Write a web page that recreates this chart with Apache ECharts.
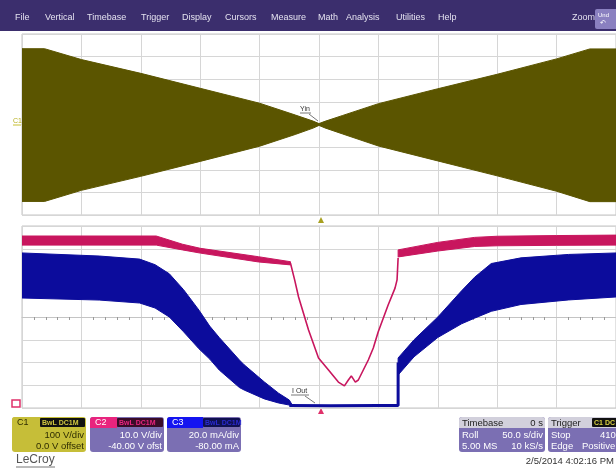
<!DOCTYPE html>
<html><head><meta charset="utf-8">
<script src="https://cdn.jsdelivr.net/npm/echarts@6/dist/echarts.min.js"></script>
<style>html,body{margin:0;padding:0;background:#fff;overflow:hidden}#c{width:616px;height:468px}</style>
</head><body><div id="c"></div>
<script>
// ---------- DATA ----------
const menuItems = ['File','Vertical','Timebase','Trigger','Display','Cursors','Measure','Math','Analysis','Utilities','Help'];
// time axis: 50 s/div, 10 divisions
const timeTicks = [0,50,100,150,200,250,300,350,400,450,500];
// C1 (Vin) envelope, volts
const c1T  = [0, 19, 50, 100, 150, 200, 230, 245, 250, 255, 270, 300, 350, 400, 450, 478, 500];
const c1Hi = [335, 335, 287, 226, 160, 94, 42, 15, 4, 14, 40, 92, 158, 222, 290, 334, 334];
const c1Lo = [-340, -340, -291, -229, -163, -96, -44, -16, -4, -15, -42, -95, -161, -227, -295, -341, -341];
// C2 envelope, volts (left band, thin dip trace, right band)
const c2LeftT  = [0, 113, 135, 150, 199, 226];
const c2LeftHi = [75.6, 75.6, 72.0, 70.2, 66.5, 64.3];
const c2LeftLo = [71.6, 71.6, 69.5, 68.1, 64.2, 62.9];
const c2DipT = [226, 229.5, 232.8, 241.2, 249.6, 258, 266.3, 271.4, 274.7, 277.2, 280.6, 283.1, 287.3, 291.5, 295.7, 299.8, 308.2, 314, 315.7, 316.6];
const c2DipV = [63.6, 56.3, 48.8, 34.3, 22.0, 16.7, 11.4, 9.7, 12.3, 14.1, 11.4, 12.3, 16.7, 21.1, 26.4, 33.4, 45.3, 52.7, 56.3, 66.0];
const c2RightT  = [316.6, 350, 381, 400, 450, 500];
const c2RightHi = [69.5, 72.8, 75.0, 75.5, 75.8, 76.0];
const c2RightLo = [66.4, 69.0, 71.0, 71.3, 71.5, 71.6];
// C3 (I Out) envelope, mA
const c3LeftT  = [0, 65, 99, 112, 124, 136, 149, 158, 166, 183, 187, 204, 216, 225, 227];
const c3LeftHi = [136.3, 133.6, 130.9, 126.0, 118.0, 104.0, 86.0, 72.0, 62.0, 42.2, 38.0, 22.9, 13.0, 7.0, 3.5];
const c3LeftLo = [96.7, 94.9, 92.3, 87.9, 80.0, 67.0, 52.0, 43.0, 33.4, 18.0, 15.8, 8.0, 4.4, 2.6, 1.5];
const c3FloorT = [225, 260, 300, 316.6, 316.6];
const c3FloorI = [2.2, 2.0, 2.2, 2.2, 40];
const c3RightT  = [316.6, 330, 350, 370, 381, 395, 420, 460, 500];
const c3RightHi = [44, 60, 80, 103, 115, 127, 132, 135, 136.3];
const c3RightLo = [29, 45, 62, 74, 79, 85, 91, 95, 97.6];

// ---------- LAYOUT / STYLE ----------
const OLIVE = '#5b5500', MAG = '#c8165e', BLUE = '#0c0c9c', LAV = '#7b6fb3';
const FONT = '"Liberation Sans", Arial, sans-serif';
const menuX = [15, 45, 87, 141, 182, 225, 271, 318, 346, 396, 438];

function band(name, xi, yi, T, HI, LO, color) {
  return {
    type: 'custom', name, xAxisIndex: xi, yAxisIndex: yi, silent: true, clip: true,
    data: [[T[0], HI[0]]],
    renderItem(params, api) {
      const pts = [];
      for (let i = 0; i < T.length; i++) pts.push(api.coord([T[i], HI[i]]));
      for (let i = T.length - 1; i >= 0; i--) pts.push(api.coord([T[i], LO[i]]));
      return { type: 'polygon', shape: { points: pts }, style: { fill: color, stroke: color, lineWidth: 1 } };
    }
  };
}
function trace(name, xi, yi, T, V, color, w) {
  return {
    type: 'line', name, xAxisIndex: xi, yAxisIndex: yi, silent: true, symbol: 'none',
    data: T.map((t, i) => [t, V[i]]), lineStyle: { color, width: w }, z: 3
  };
}
const gridLine = { show: true, lineStyle: { color: '#d6d6d6', width: 1 } };
function xAx(gi, zeroIdx) {
  return {
    type: 'value', gridIndex: gi, min: timeTicks[0], max: timeTicks[timeTicks.length - 1], interval: 50,
    axisLabel: { show: false }, splitLine: gridLine,
    axisLine: { show: true, onZero: true, onZeroAxisIndex: zeroIdx, lineStyle: { color: '#c4c4c4' } },
    axisTick: { show: false },
    minorTick: { show: true, splitNumber: 5, length: 3, lineStyle: { color: '#9a9a9a' } }
  };
}
function txt(x, y, s, opt) {
  return Object.assign({ type: 'text', x, y, silent: true,
    style: Object.assign({ text: s, font: '9px ' + FONT, fill: '#fff', verticalAlign: 'middle' }, opt || {}) });
}
function rect(x, y, w, h, fill, r) {
  return { type: 'rect', silent: true, shape: { x, y, width: w, height: h, r: r || 0 }, style: { fill } };
}

const graphics = [];
// menu bar
graphics.push(rect(0, 0, 616, 31, '#3b2e6d'));
menuItems.forEach((m, i) => graphics.push(txt(menuX[i], 18, m, { font: '9px ' + FONT, fill: '#e4e2f0' })));
graphics.push(txt(572, 18, 'Zoom', { font: '9px ' + FONT, fill: '#e4e2f0' }));
graphics.push(rect(595, 9, 24, 20, '#8a80c0', 2));
graphics.push(txt(598, 15, 'Und', { font: '6px ' + FONT, fill: '#fff' }));
graphics.push(txt(600, 23, '↶', { font: '7px ' + FONT, fill: '#fff' }));
// channel info boxes
function chanBox(x, headColor, headW, tagColor, tagText, tagFill, label, l1, l2, bodyFill, textFill, labelFill) {
  graphics.push(rect(x, 417, 74, 35, bodyFill, 3));
  graphics.push(rect(x, 417, headW, 11, headColor, [3, 0, 0, 0]));
  graphics.push(rect(x + headW, 418, 74 - headW - 1, 9, tagColor, 1));
  graphics.push(txt(x + headW + 2, 423, tagText, { font: 'bold 7px ' + FONT, fill: tagFill }));
  graphics.push(txt(x + 5, 423, label, { font: '9px ' + FONT, fill: labelFill }));
  graphics.push(txt(x + 72, 435, l1, { font: '9.5px ' + FONT, fill: textFill, align: 'right' }));
  graphics.push(txt(x + 72, 446, l2, { font: '9.5px ' + FONT, fill: textFill, align: 'right' }));
}
chanBox(12, '#c6be38', 28, '#111', 'BwL DC1M', '#cfc640', 'C1', '100 V/div', '0.0 V offset', '#c6be38', '#2e2c00', '#2e2c00');
chanBox(90, '#e8247e', 27, '#3a0c28', 'BwL DC1M', '#e8247e', 'C2', '10.0 V/div', '-40.00 V ofst', LAV, '#ffffff', '#ffffff');
chanBox(167, '#1414f0', 36, '#101050', 'BwL DC1M', '#2a2ad0', 'C3', '20.0 mA/div', '-80.00 mA', LAV, '#ffffff', '#ffffff');
// timebase
graphics.push(rect(459, 417, 86, 35, LAV, 3));
graphics.push(rect(459, 417, 86, 11, '#d2d0dc', [3, 3, 0, 0]));
graphics.push(txt(462, 423, 'Timebase', { font: '9.5px ' + FONT, fill: '#222' }));
graphics.push(txt(543, 423, '0 s', { font: '9.5px ' + FONT, fill: '#222', align: 'right' }));
graphics.push(txt(462, 435, 'Roll', { font: '9.5px ' + FONT }));
graphics.push(txt(543, 435, '50.0 s/div', { font: '9.5px ' + FONT, align: 'right' }));
graphics.push(txt(462, 446, '5.00 MS', { font: '9.5px ' + FONT }));
graphics.push(txt(543, 446, '10 kS/s', { font: '9.5px ' + FONT, align: 'right' }));
// trigger
graphics.push(rect(548, 417, 80, 35, LAV, 3));
graphics.push(rect(548, 417, 80, 11, '#d2d0dc', [3, 3, 0, 0]));
graphics.push(txt(551, 423, 'Trigger', { font: '9.5px ' + FONT, fill: '#222' }));
graphics.push(rect(592, 418, 30, 9, '#111', 1));
graphics.push(txt(594, 423, 'C1 DC', { font: 'bold 7px ' + FONT, fill: '#d8d040' }));
graphics.push(txt(551, 435, 'Stop', { font: '9.5px ' + FONT }));
graphics.push(txt(600, 435, '410 mV', { font: '9.5px ' + FONT }));
graphics.push(txt(551, 446, 'Edge', { font: '9.5px ' + FONT }));
graphics.push(txt(582, 446, 'Positive', { font: '9.5px ' + FONT }));
// footer
graphics.push(txt(16, 460, 'LeCroy', { font: '12px ' + FONT, fill: '#555' }));
graphics.push({ type: 'line', silent: true, shape: { x1: 16, y1: 467, x2: 55, y2: 467 }, style: { stroke: '#777', lineWidth: 1 } });
graphics.push(txt(614, 461, '2/5/2014 4:02:16 PM', { font: '9.5px ' + FONT, fill: '#333', align: 'right' }));
// channel marker / annotations
graphics.push(txt(13, 121, 'C1', { font: '7px ' + FONT, fill: '#b8b020' }));
graphics.push({ type: 'line', silent: true, shape: { x1: 13, y1: 125, x2: 21, y2: 125 }, style: { stroke: '#c8c030', lineWidth: 1 } });
graphics.push({ type: 'rect', silent: true, shape: { x: 12, y: 400, width: 8, height: 7 }, style: { fill: '#fff', stroke: '#e0306a', lineWidth: 1.5 } });
graphics.push({ type: 'polygon', silent: true, shape: { points: [[318, 223], [324, 223], [321, 217]] }, style: { fill: '#a8a020' } });
graphics.push({ type: 'polygon', silent: true, shape: { points: [[318, 414], [324, 414], [321, 408]] }, style: { fill: '#e0306a' } });
graphics.push(txt(300, 109, 'Yin', { font: '7px ' + FONT, fill: '#333' }));
graphics.push({ type: 'line', silent: true, shape: { x1: 300, y1: 113, x2: 311, y2: 113 }, style: { stroke: '#555', lineWidth: 0.8 } });
graphics.push({ type: 'line', silent: true, shape: { x1: 309, y1: 114, x2: 318, y2: 121 }, style: { stroke: '#555', lineWidth: 0.8 } });
graphics.push(txt(292, 391, 'I Out', { font: '7px ' + FONT, fill: '#333' }));
graphics.push({ type: 'line', silent: true, shape: { x1: 291, y1: 395, x2: 309, y2: 395 }, style: { stroke: '#555', lineWidth: 0.8 } });
graphics.push({ type: 'line', silent: true, shape: { x1: 305, y1: 396, x2: 315, y2: 403 }, style: { stroke: '#555', lineWidth: 0.8 } });

const option = {
  animation: false,
  backgroundColor: '#ffffff',
  grid: [
    { left: 22, top: 34, width: 597, height: 181, show: true, borderColor: '#c4c4c4', borderWidth: 1, backgroundColor: 'transparent' },
    { left: 22, top: 226, width: 597, height: 182, show: true, borderColor: '#c4c4c4', borderWidth: 1, backgroundColor: 'transparent' }
  ],
  xAxis: [xAx(0, 0), xAx(1, 3)],
  yAxis: [
    { type: 'value', gridIndex: 0, min: -400, max: 400, interval: 100, axisLabel: { show: false }, axisLine: { show: false }, axisTick: { show: false }, splitLine: gridLine },
    { type: 'value', gridIndex: 1, min: 0, max: 80, interval: 10, axisLabel: { show: false }, axisLine: { show: false }, axisTick: { show: false }, splitLine: gridLine },
    { type: 'value', gridIndex: 1, min: 0, max: 160, interval: 20, show: false, splitLine: { show: false } },
    { type: 'value', gridIndex: 1, min: -40, max: 40, interval: 10, show: false, splitLine: { show: false } }
  ],
  series: [
    band('C1', 0, 0, c1T, c1Hi, c1Lo, OLIVE),
    band('C3 left', 1, 2, c3LeftT, c3LeftHi, c3LeftLo, BLUE),
    band('C3 right', 1, 2, c3RightT, c3RightHi, c3RightLo, BLUE),
    trace('C3 floor', 1, 2, c3FloorT, c3FloorI, BLUE, 3),
    band('C2 left', 1, 1, c2LeftT, c2LeftHi, c2LeftLo, MAG),
    band('C2 right', 1, 1, c2RightT, c2RightHi, c2RightLo, MAG),
    trace('C2 dip', 1, 1, c2DipT, c2DipV, MAG, 1.6)
  ],
  graphic: graphics
};
const chart = echarts.init(document.getElementById('c'), null, { renderer: 'canvas' });
chart.setOption(option);
</script>
</body></html>
